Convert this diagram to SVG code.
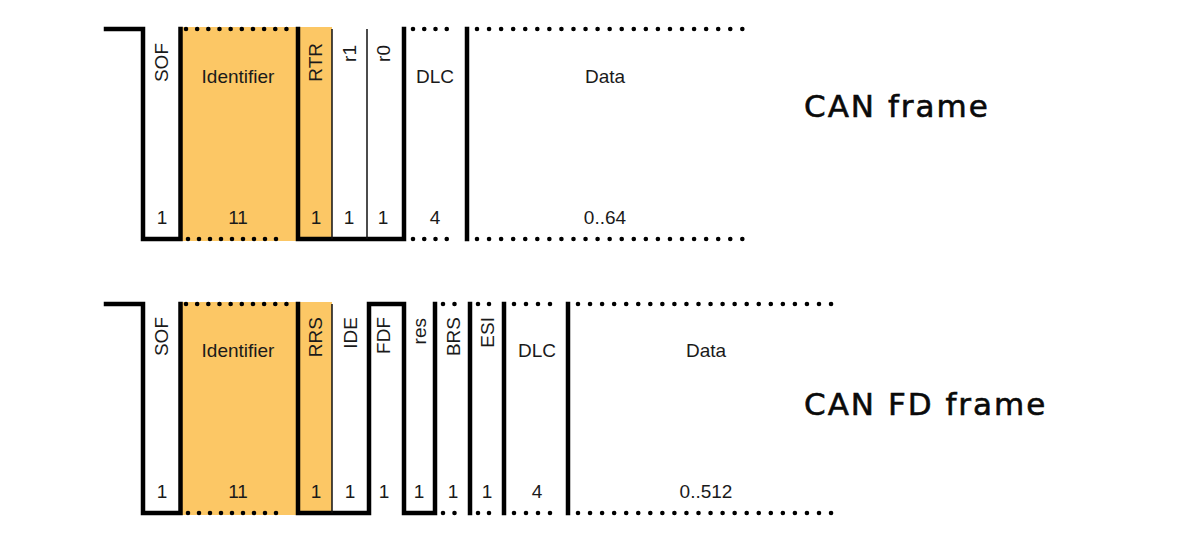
<svg xmlns="http://www.w3.org/2000/svg" width="1183" height="543" viewBox="0 0 1183 543">
<style>
.bg{fill:#ffffff}
.fill{fill:#fcc765}
.sig{fill:none;stroke:#000;stroke-width:4.5;stroke-linejoin:miter;stroke-linecap:square}
.thin{fill:none;stroke:#111;stroke-width:1.5}
.dots{fill:none;stroke:#000;stroke-width:4.6;stroke-linecap:round}
.lbl{font-family:"Liberation Sans",Arial,sans-serif;font-size:19px;fill:#1a1a1a;text-anchor:middle}
.vl{font-family:"Liberation Sans",Arial,sans-serif;font-size:19px;fill:#1a1a1a;text-anchor:end}
.title{font-family:"DejaVu Sans","Noto Sans",sans-serif;font-size:31px;fill:#0a0a0a;stroke:#0a0a0a;stroke-width:0.6;letter-spacing:2px}
</style>
<rect class="bg" x="0" y="0" width="1183" height="543"/>

<!-- ===== CAN frame ===== -->
<g id="can-frame">
  <g id="can-sof">
    <text class="vl" transform="translate(167.5,43) rotate(-90)">SOF</text>
    <text class="lbl" x="162" y="224">1</text>
  </g>
  <g id="can-identifier">
    <rect class="fill" x="181" y="27" width="117" height="214"/>
    <text class="lbl" x="238" y="83">Identifier</text>
    <text class="lbl" x="238" y="224">11</text>
  </g>
  <g id="can-rtr">
    <rect class="fill" x="298" y="27" width="34" height="214"/>
    <text class="vl" transform="translate(321.5,43) rotate(-90)">RTR</text>
    <text class="lbl" x="316" y="224">1</text>
  </g>
  <g id="can-r1">
    <text class="vl" transform="translate(355.5,45) rotate(-90)">r1</text>
    <text class="lbl" x="349" y="224">1</text>
  </g>
  <g id="can-r0">
    <text class="vl" transform="translate(389.5,45) rotate(-90)">r0</text>
    <text class="lbl" x="383" y="224">1</text>
  </g>
  <g id="can-dlc">
    <text class="lbl" x="435" y="83">DLC</text>
    <text class="lbl" x="435" y="224">4</text>
  </g>
  <g id="can-data">
    <text class="lbl" x="605" y="83">Data</text>
    <text class="lbl" x="605" y="224">0..64</text>
  </g>
  <g id="can-title">
    <text class="title" x="804" y="117">CAN frame</text>
  </g>
</g>

<!-- ===== CAN FD frame ===== -->
<g id="canfd-frame">
  <g id="fd-sof">
    <text class="vl" transform="translate(167.5,317) rotate(-90)">SOF</text>
    <text class="lbl" x="162" y="498">1</text>
  </g>
  <g id="fd-identifier">
    <rect class="fill" x="181" y="302" width="117" height="213"/>
    <text class="lbl" x="238" y="357">Identifier</text>
    <text class="lbl" x="238" y="498">11</text>
  </g>
  <g id="fd-rrs">
    <rect class="fill" x="298" y="302" width="34" height="213"/>
    <text class="vl" transform="translate(321.5,317) rotate(-90)">RRS</text>
    <text class="lbl" x="316" y="498">1</text>
  </g>
  <g id="fd-ide">
    <text class="vl" transform="translate(356.5,317) rotate(-90)">IDE</text>
    <text class="lbl" x="350" y="498">1</text>
  </g>
  <g id="fd-fdf">
    <text class="vl" transform="translate(389.5,317) rotate(-90)">FDF</text>
    <text class="lbl" x="384" y="498">1</text>
  </g>
  <g id="fd-res">
    <text class="vl" transform="translate(425.5,318) rotate(-90)">res</text>
    <text class="lbl" x="419" y="498">1</text>
  </g>
  <g id="fd-brs">
    <text class="vl" transform="translate(459.5,317) rotate(-90)">BRS</text>
    <text class="lbl" x="453" y="498">1</text>
  </g>
  <g id="fd-esi">
    <text class="vl" transform="translate(493.5,317) rotate(-90)">ESI</text>
    <text class="lbl" x="487" y="498">1</text>
  </g>
  <g id="fd-dlc">
    <text class="lbl" x="537" y="357">DLC</text>
    <text class="lbl" x="537" y="498">4</text>
  </g>
  <g id="fd-data">
    <text class="lbl" x="706" y="357">Data</text>
    <text class="lbl" x="706" y="498">0..512</text>
  </g>
  <g id="fd-title">
    <text class="title" x="804" y="415">CAN FD frame</text>
  </g>
</g>

<!-- ===== connectors: signal waveforms ===== -->
<g id="connectors">
  <!-- CAN frame -->
  <path class="sig" d="M106,29 H143 V239 H180.5 V29"/>
  <path class="sig" d="M298,29 V239 H404 V29"/>
  <line class="thin" x1="332" y1="29" x2="332" y2="239"/>
  <line class="thin" x1="367" y1="29" x2="367" y2="239"/>
  <line class="sig" x1="467" y1="29" x2="467" y2="239"/>
  <line class="dots" x1="186" y1="29" x2="286.5" y2="29" stroke-dasharray="0 11.16"/>
  <line class="dots" x1="188" y1="239" x2="287" y2="239" stroke-dasharray="0 11"/>
  <line class="dots" x1="413" y1="29" x2="458" y2="29" stroke-dasharray="0 11.25"/>
  <line class="dots" x1="413" y1="239" x2="458" y2="239" stroke-dasharray="0 11.25"/>
  <line class="dots" x1="477" y1="29" x2="742.5" y2="29" stroke-dasharray="0 12.06"/>
  <line class="dots" x1="477" y1="239" x2="742.5" y2="239" stroke-dasharray="0 12.06"/>

  <!-- CAN FD frame -->
  <path class="sig" d="M106,304 H143 V513 H180.5 V304"/>
  <path class="sig" d="M298,304 V513 H369 V304 H404 V513 H435 V304"/>
  <line class="thin" x1="332" y1="304" x2="332" y2="513"/>
  <line class="sig" x1="470" y1="304" x2="470" y2="513"/>
  <line class="sig" x1="504" y1="304" x2="504" y2="513"/>
  <line class="sig" x1="568" y1="304" x2="568" y2="513"/>
  <line class="dots" x1="186" y1="304" x2="286.5" y2="304" stroke-dasharray="0 11.16"/>
  <line class="dots" x1="188" y1="513" x2="287" y2="513" stroke-dasharray="0 11"/>
  <line class="dots" x1="443" y1="304" x2="466" y2="304" stroke-dasharray="0 11.5"/>
  <line class="dots" x1="443" y1="513" x2="466" y2="513" stroke-dasharray="0 11.5"/>
  <line class="dots" x1="478" y1="304" x2="500" y2="304" stroke-dasharray="0 11"/>
  <line class="dots" x1="478" y1="513" x2="500" y2="513" stroke-dasharray="0 11"/>
  <line class="dots" x1="514" y1="304" x2="562" y2="304" stroke-dasharray="0 12"/>
  <line class="dots" x1="514" y1="513" x2="562" y2="513" stroke-dasharray="0 12"/>
  <line class="dots" x1="578" y1="304" x2="843" y2="304" stroke-dasharray="0 12.05"/>
  <line class="dots" x1="578" y1="513" x2="843" y2="513" stroke-dasharray="0 12.05"/>
</g>
</svg>
